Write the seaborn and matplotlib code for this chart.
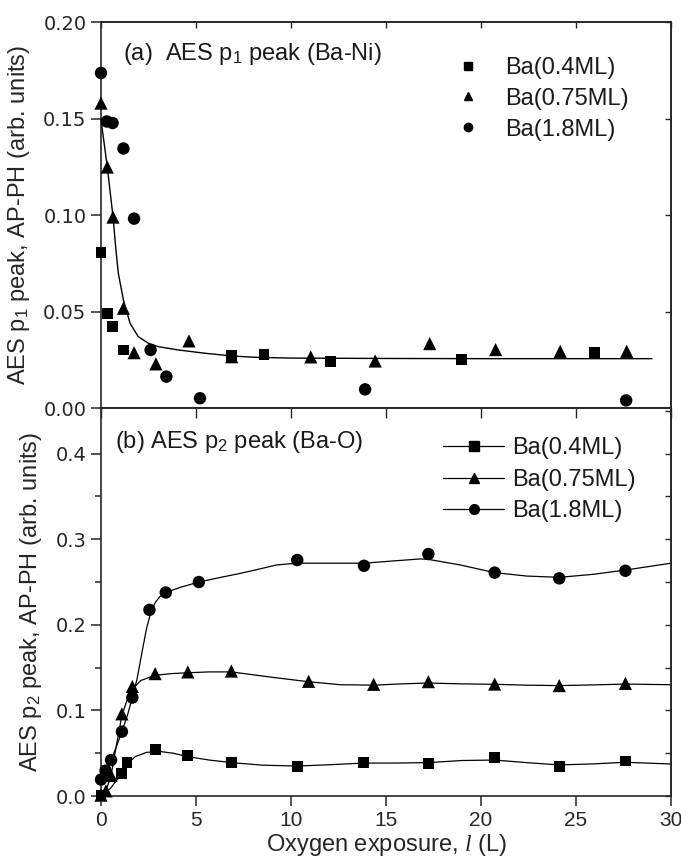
import matplotlib
matplotlib.use("Agg")
import matplotlib.pyplot as plt
from matplotlib.lines import Line2D
import pandas as pd
import seaborn as sns

# ---- (a) AES p1 peak (Ba-Ni): scattered points + decay fit ----
a_x_04 = [0.0, 0.33, 0.61, 1.18, 6.88, 8.58, 12.09, 18.95, 25.95]
a_y_04 = [0.0806, 0.0492, 0.0423, 0.0302, 0.0271, 0.0280, 0.0240, 0.0252, 0.0288]
a_x_075 = [0.0, 0.33, 0.63, 1.18, 1.74, 2.89, 4.63, 6.88, 11.04, 14.43, 17.30, 20.77, 24.17, 27.67]
a_y_075 = [0.158, 0.1249, 0.099, 0.0518, 0.0288, 0.023, 0.0349, 0.0267, 0.0266, 0.0245,
           0.0335, 0.0304, 0.0295, 0.0295]
a_x_18 = [0.0, 0.30, 0.61, 1.18, 1.74, 2.61, 3.44, 5.21, 13.9, 27.64]
a_y_18 = [0.1736, 0.1485, 0.1477, 0.1345, 0.0982, 0.0302, 0.0164, 0.0052, 0.0098, 0.0041]
a_fit_x = [0.02, 0.33, 0.64, 0.77, 0.91, 1.18, 1.53, 1.96, 2.49, 3.02, 4.07, 5.47, 6.88,
           8.1, 10.0, 15.0, 20.0, 25.0, 29.0]
a_fit_y = [0.148, 0.125, 0.0985, 0.0837, 0.070, 0.0561, 0.044, 0.0371, 0.0337, 0.0319,
           0.0302, 0.0285, 0.0271, 0.0264, 0.0260, 0.0258, 0.0257, 0.0257, 0.0257]

# ---- (b) AES p2 peak (Ba-O): points + smooth connecting curves ----
b_x_04 = [0.0, 1.09, 1.37, 2.87, 4.55, 6.88, 10.33, 13.84, 17.23, 20.72, 24.12, 27.6]
b_y_04 = [0.001, 0.0265, 0.039, 0.054, 0.047, 0.039, 0.035, 0.039, 0.0382, 0.0452, 0.035, 0.0409]
b_x_075 = [0.0, 0.26, 0.53, 1.1, 1.65, 2.85, 4.57, 6.86, 10.93, 14.35, 17.23, 20.72, 24.12, 27.6]
b_y_075 = [0.001, 0.006, 0.024, 0.096, 0.128, 0.143, 0.145, 0.146, 0.134, 0.1305,
           0.1336, 0.1308, 0.129, 0.1316]
b_x_18 = [0.0, 0.24, 0.53, 1.1, 1.65, 2.55, 3.41, 5.15, 10.33, 13.84, 17.23, 20.72, 24.12, 27.6]
b_y_18 = [0.0192, 0.0296, 0.042, 0.0752, 0.115, 0.2175, 0.2378, 0.250, 0.2757, 0.269,
          0.2827, 0.261, 0.2543, 0.2632]

b_line_x_04 = [0, 0.5, 1.09, 1.37, 1.8, 2.4, 3.1, 3.8, 4.55, 5.7, 6.88, 8.5, 10.33, 12.0,
               13.84, 15.5, 17.23, 19.0, 20.72, 22.4, 24.12, 25.9, 27.6, 30]
b_line_y_04 = [0.0, 0.009, 0.026, 0.037, 0.046, 0.051, 0.052, 0.050, 0.046, 0.042, 0.039,
               0.036, 0.035, 0.0365, 0.0385, 0.0385, 0.039, 0.0415, 0.042, 0.039, 0.0363,
               0.0375, 0.0394, 0.0374]
b_line_x_075 = [0, 0.26, 0.53, 0.8, 1.1, 1.4, 1.65, 2.1, 2.85, 3.7, 4.57, 5.7, 6.86, 8.9,
                10.93, 12.6, 14.35, 15.8, 17.23, 19.0, 20.72, 22.4, 24.12, 25.9, 27.6, 30]
b_line_y_075 = [0.0, 0.006, 0.024, 0.058, 0.094, 0.114, 0.125, 0.135, 0.141, 0.143, 0.144,
                0.145, 0.145, 0.139, 0.1335, 0.130, 0.1295, 0.131, 0.132, 0.131, 0.1305,
                0.1295, 0.129, 0.1298, 0.1308, 0.130]
b_line_x_18 = [0, 0.24, 0.53, 0.8, 1.1, 1.4, 1.65, 1.9, 2.15, 2.4, 2.6, 2.85, 3.1, 3.41,
               4.2, 5.15, 6.2, 7.3, 8.3, 9.25, 10.33, 12.0, 13.84, 15.3, 16.8, 17.23, 18.9,
               20.72, 22.4, 24.12, 25.9, 27.6, 30]
b_line_y_18 = [0.0192, 0.0296, 0.042, 0.057, 0.0752, 0.095, 0.115, 0.137, 0.167, 0.196,
               0.213, 0.226, 0.233, 0.2378, 0.244, 0.250, 0.255, 0.260, 0.265, 0.270,
               0.272, 0.272, 0.272, 0.2745, 0.277, 0.2765, 0.270, 0.261, 0.257, 0.2555,
               0.259, 0.264, 0.272]

labels = ["Ba(0.4ML)", "Ba(0.75ML)", "Ba(1.8ML)"]
markers = ["s", "^", "o"]
sizes = [62, 90, 80]

sns.set_style("ticks")
plt.rcParams["font.family"] = ["Liberation Sans", "DejaVu Sans"]
plt.rcParams["mathtext.fontset"] = "custom"
plt.rcParams["mathtext.rm"] = "Liberation Sans"
plt.rcParams["mathtext.it"] = "Liberation Serif:italic"
plt.rcParams["axes.linewidth"] = 1.2
plt.rcParams["text.color"] = "#1a1a1a"

fig = plt.figure(figsize=(6.81, 8.58), dpi=100)
ax1 = fig.add_axes([101 / 681, (858 - 408.3) / 858, 570 / 681, 386.3 / 858])
ax2 = fig.add_axes([101 / 681, (858 - 796) / 858, 570 / 681, 387.7 / 858])

# panel (a)
for xs, ys, m, s in zip([a_x_04, a_x_075, a_x_18], [a_y_04, a_y_075, a_y_18], markers, sizes):
    sns.scatterplot(x=xs, y=ys, marker=m, s=s, color="black", edgecolor="none",
                    ax=ax1, legend=False, zorder=3, clip_on=False)
sns.lineplot(x=a_fit_x, y=a_fit_y, sort=False, estimator=None, color="black",
             lw=1.0, ax=ax1)

# panel (b)
for xs, ys, lx, ly, m, s in zip([b_x_04, b_x_075, b_x_18], [b_y_04, b_y_075, b_y_18],
                                [b_line_x_04, b_line_x_075, b_line_x_18],
                                [b_line_y_04, b_line_y_075, b_line_y_18], markers, sizes):
    sns.lineplot(x=lx, y=ly, sort=False, estimator=None, color="black", lw=0.9, ax=ax2)
    sns.scatterplot(x=xs, y=ys, marker=m, s=s, color="black", edgecolor="none",
                    ax=ax2, legend=False, zorder=3, clip_on=False)

tick_font = {"family": "DejaVu Sans", "size": 14}

# axes formatting
ax1.set_xlim(0, 30)
ax1.set_ylim(0, 0.2)
ax1.set_yticks([0, 0.05, 0.10, 0.15, 0.20])
ax1.set_yticklabels(["0.00", "0.05", "0.10", "0.15", "0.20"], fontdict=tick_font)
ax1.set_xticks([0, 5, 10, 15, 20, 25, 30])
ax1.tick_params(axis="x", length=0, labelbottom=False)
ax1.tick_params(axis="y", direction="out", length=7, width=1.1)

ax2.set_xlim(0, 30)
ax2.set_ylim(0, 0.453)
ax2.set_yticks([0, 0.1, 0.2, 0.3, 0.4])
ax2.set_yticklabels(["0.0", "0.1", "0.2", "0.3", "0.4"], fontdict=tick_font)
ax2.set_yticks([0.05, 0.15, 0.25, 0.35], minor=True)
ax2.set_xticks([0, 5, 10, 15, 20, 25, 30])
ax2.tick_params(axis="x", direction="out", length=7, width=1.1, labelsize=15)
ax2.tick_params(axis="y", which="major", direction="out", length=7, width=1.1)
ax2.tick_params(axis="y", which="minor", direction="out", length=4, width=1.1)

# mirrored inward ticks
for ax, minor in [(ax1, False), (ax2, True)]:
    sec_r = ax.secondary_yaxis("right")
    sec_r.set_yticks(ax.get_yticks())
    if minor:
        sec_r.set_yticks([0.05, 0.15, 0.25, 0.35, 0.45], minor=True)
    sec_r.tick_params(axis="y", which="both", direction="in", length=4, width=1.0,
                      labelright=False)
    sec_t = ax.secondary_xaxis("top")
    sec_t.set_xticks([0, 5, 10, 15, 20, 25, 30])
    sec_t.tick_params(axis="x", direction="in", length=4 if ax is ax1 else 7, width=1.0,
                      labeltop=False)

ax1.set_ylabel("AES p$_1$ peak, AP-PH (arb. units)", fontsize=17, labelpad=8)
ax2.set_ylabel("AES p$_2$ peak, AP-PH (arb. units)", fontsize=17, labelpad=8)
ax2.set_xlabel("Oxygen exposure, $\\mathit{l}$ (L)", fontsize=17, labelpad=2)

ax1.text(0.0386, 0.917, "(a)  AES p$_1$ peak (Ba-Ni)", transform=ax1.transAxes,
         fontsize=17, va="center", ha="left")
ax2.text(0.0246, 0.913, "(b) AES p$_2$ peak (Ba-O)", transform=ax2.transAxes,
         fontsize=17, va="center", ha="left")

# legends
h1 = [Line2D([], [], marker=m, color="black", linestyle="none", markersize=6) for m in markers]
ax1.legend(h1, labels, loc="upper left", bbox_to_anchor=(0.623, 0.91), frameon=False,
           fontsize=17, handlelength=1.0, handletextpad=1.06, labelspacing=0.38,
           borderpad=0, borderaxespad=0)
h2 = [Line2D([], [], marker=m, color="black", lw=0.9, markersize=7) for m in markers]
ax2.legend(h2, labels, loc="upper left", bbox_to_anchor=(0.60, 0.925), frameon=False,
           fontsize=17, handlelength=2.6, handletextpad=0.34, labelspacing=0.4,
           borderpad=0, borderaxespad=0)

fig.savefig("out.png", dpi=100)
